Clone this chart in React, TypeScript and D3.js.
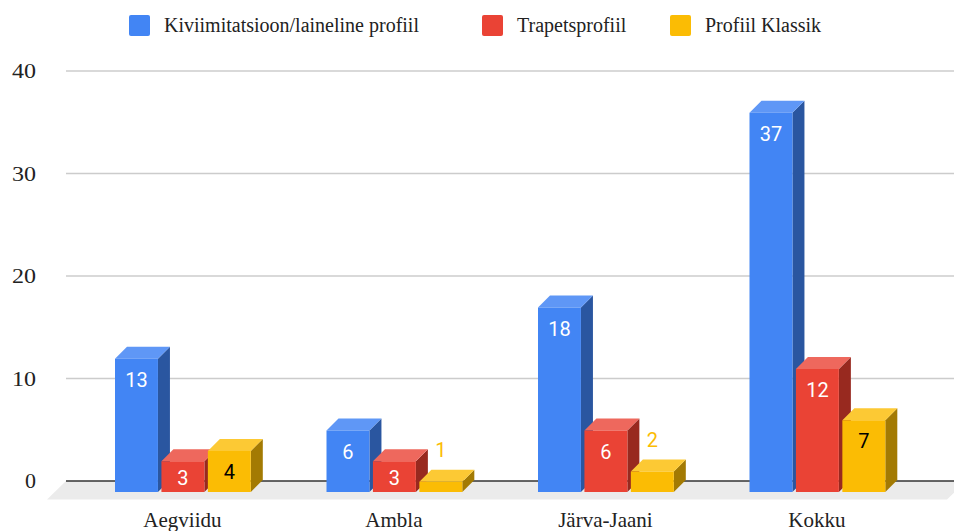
import React from "react";
import * as d3 from "d3";

const categories = ["Aegviidu", "Ambla", "Järva-Jaani", "Kokku"];
const seriesNames = ["Kiviimitatsioon/laineline profiil", "Trapetsprofiil", "Profiil Klassik"];
const kivi = [13, 6, 18, 37];
const trapets = [3, 3, 6, 12];
const klassik = [4, 1, 2, 7];
const yTicks = [0, 10, 20, 30, 40];
const frontColors = ["#4285f4", "#ea4335", "#fbbc04"];
const topColors = ["#5f97f6", "#ee685d", "#fcc934"];
const sideColors = ["#2a56a0", "#98291f", "#a37a03"];
const labelColors = ["#ffffff", "#ffffff", "#000000"];
const legendSquareX = [129, 482, 670];

const SERIF = "'Liberation Serif', serif";
const SANS = "Roboto, sans-serif";
const DEPTH = 12;

export default function App() {
  const seriesValues = [kivi, trapets, klassik];
  const y = d3.scaleLinear().domain([0, 40]).range([492, 82]);
  const gridY = (v: number) => y(v) - 11;
  const groupW = 135.8;
  const x0 = d3
    .scaleBand<string>()
    .domain(categories)
    .range([115, 115 + 3 * 211.5 + groupW])
    .paddingInner(1 - groupW / 211.5)
    .paddingOuter(0);
  const x1 = d3
    .scaleBand<string>()
    .domain(seriesNames)
    .range([0, x0.bandwidth()])
    .paddingInner(0.075)
    .paddingOuter(0);
  const w = x1.bandwidth();
  const base = y(0);

  return (
    <svg
      width={954}
      height={531}
      style={{ position: "absolute", left: 0, top: 0, display: "block", background: "#fff" }}
    >
      {/* floor */}
      <polygon points={`66,${gridY(0)} 966,${gridY(0)} 947,499.5 47,499.5`} fill="#ebebeb" />

      {/* gridlines */}
      {yTicks.map((t) => (
        <g key={t}>
          <line
            x1={66}
            x2={954}
            y1={gridY(t)}
            y2={gridY(t)}
            stroke={t === 0 ? "#333333" : "#cccccc"}
            strokeWidth={t === 0 ? 1.5 : 1.5}
          />
          <text
            x={36}
            y={gridY(t) + 7}
            textAnchor="end"
            fontFamily={SERIF}
            fontSize={20}
            fill="#222222"
            style={{ fontVariantNumeric: "oldstyle-nums" }}
            textLength={t === 0 ? 11 : 24}
            lengthAdjust="spacingAndGlyphs"
          >
            {t}
          </text>
        </g>
      ))}

      {/* bars */}
      {categories.map((c, ci) =>
        seriesNames.map((s, si) => {
          const v = seriesValues[si][ci];
          const xl = (x0(c) as number) + (x1(s) as number);
          const top = y(v);
          return (
            <g key={c + s}>
              <polygon
                points={`${xl + w},${top} ${xl + w + DEPTH},${top - DEPTH} ${xl + w + DEPTH},${base - DEPTH} ${xl + w},${base}`}
                fill={sideColors[si]}
              />
              <polygon
                points={`${xl},${top} ${xl + DEPTH},${top - DEPTH} ${xl + w + DEPTH},${top - DEPTH} ${xl + w},${top}`}
                fill={topColors[si]}
              />
              <rect x={xl} y={top} width={w} height={base - top} fill={frontColors[si]} />
            </g>
          );
        })
      )}

      {/* data labels */}
      {categories.map((c, ci) =>
        seriesNames.map((s, si) => {
          const v = seriesValues[si][ci];
          const xc = (x0(c) as number) + (x1(s) as number) + w / 2;
          const top = y(v);
          const inside = base - top > 25;
          const cy = inside ? Math.min(top + 21, base - 14) : top - 32;
          return (
            <text
              key={c + s + "l"}
              x={xc}
              y={cy}
              dy="0.36em"
              textAnchor="middle"
              fontFamily={SANS}
              fontSize={20}
              fill={inside ? labelColors[si] : frontColors[si]}
            >
              {v}
            </text>
          );
        })
      )}

      {/* category labels */}
      {categories.map((c) => (
        <text
          key={c}
          x={(x0(c) as number) + x0.bandwidth() / 2 - 0.5}
          y={527}
          textAnchor="middle"
          fontFamily={SERIF}
          fontSize={21}
          fill="#222222"
        >
          {c}
        </text>
      ))}

      {/* legend */}
      {seriesNames.map((s, i) => (
        <g key={s}>
          <rect x={legendSquareX[i]} y={15} width={21} height={21} rx={2} fill={frontColors[i]} />
          <text
            x={legendSquareX[i] + 35}
            y={32}
            fontFamily={SERIF}
            fontSize={20}
            fill="#222222"
          >
            {s}
          </text>
        </g>
      ))}
    </svg>
  );
}
